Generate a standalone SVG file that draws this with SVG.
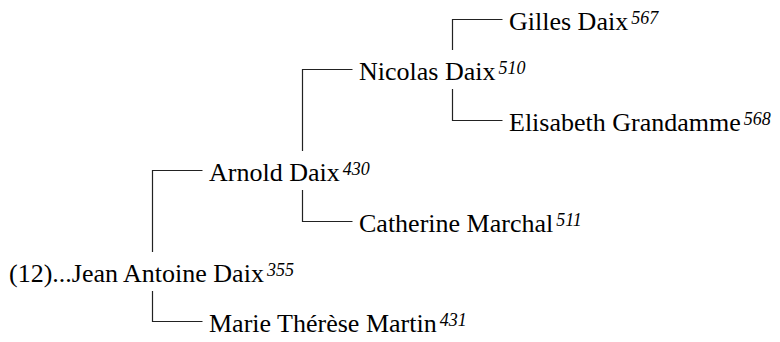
<svg xmlns="http://www.w3.org/2000/svg" width="780" height="342" viewBox="0 0 780 342">
<style>
.n{font-family:"Liberation Serif","Times New Roman",serif;font-size:26px;fill:#000}
.s{font-style:italic;font-size:18px}
.c{fill:none;stroke:#222;stroke-width:1.2}
</style>
<rect width="780" height="342" fill="#fff"/>
<g id="connectors">
<path class="c" d="M152.5,252 V170.5 H202.5"/>
<path class="c" d="M152.5,291 V321.5 H202.5"/>
<path class="c" d="M302.5,151 V69.5 H352.5"/>
<path class="c" d="M302.5,190 V221.5 H352.5"/>
<path class="c" d="M452.5,50 V19.5 H502.5"/>
<path class="c" d="M452.5,89 V120.5 H502.5"/>
</g>
<g id="jean"><text class="n" x="9" y="281.5">(12)...Jean Antoine Daix<tspan class="s" dx="3" dy="-6">355</tspan></text></g>
<g id="marie"><text class="n" x="209" y="331.5">Marie Thérèse Martin<tspan class="s" dx="3" dy="-6">431</tspan></text></g>
<g id="arnold"><text class="n" x="209" y="180.5">Arnold Daix<tspan class="s" dx="3" dy="-6">430</tspan></text></g>
<g id="catherine"><text class="n" x="359" y="231.5">Catherine Marchal<tspan class="s" dx="3" dy="-6">511</tspan></text></g>
<g id="nicolas"><text class="n" x="359" y="79.5">Nicolas Daix<tspan class="s" dx="3" dy="-6">510</tspan></text></g>
<g id="gilles"><text class="n" x="509" y="29.5">Gilles Daix<tspan class="s" dx="3" dy="-6">567</tspan></text></g>
<g id="elisabeth"><text class="n" x="509" y="130.5">Elisabeth Grandamme<tspan class="s" dx="3" dy="-6">568</tspan></text></g>
</svg>
